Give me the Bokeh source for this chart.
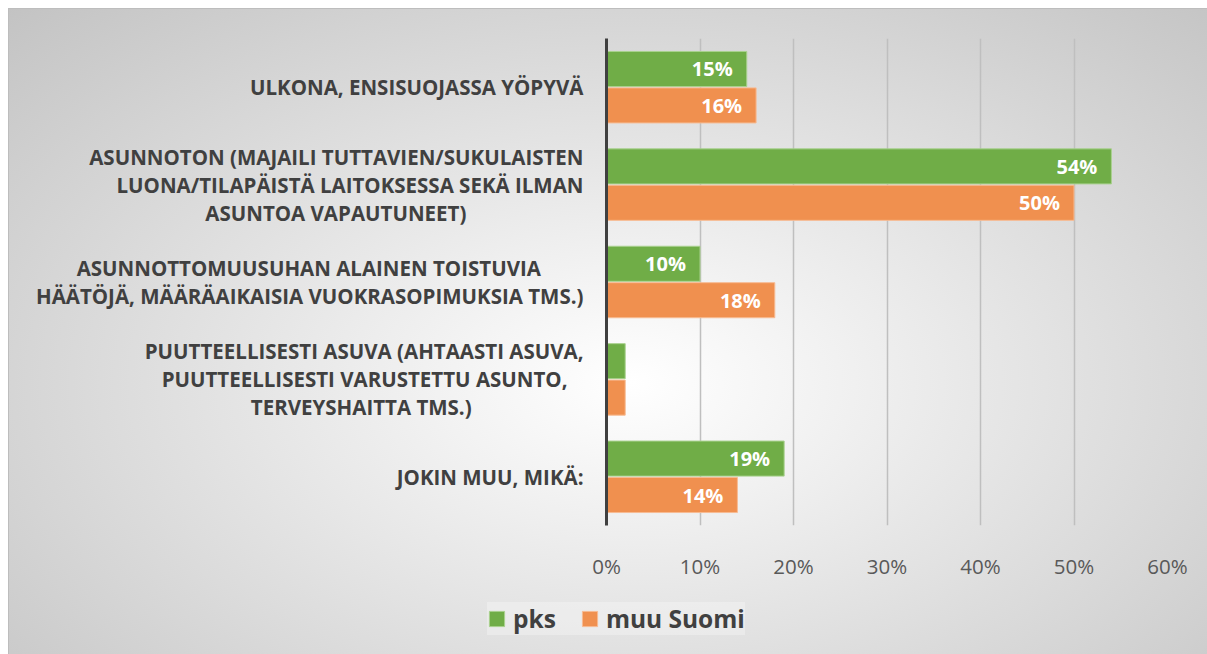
from bokeh.plotting import figure
from bokeh.models import (FactorRange, Range1d, FixedTicker, ColumnDataSource,
                          LabelSet, Legend, LegendItem)
from bokeh.transform import dodge
from bokeh.core.properties import value
from bokeh.embed import file_html
from bokeh.resources import INLINE

categories = [
    "ULKONA, ENSISUOJASSA YÖPYVÄ",
    "ASUNNOTON (MAJAILI TUTTAVIEN/SUKULAISTEN\nLUONA/TILAPÄISTÄ LAITOKSESSA SEKÄ ILMAN\nASUNTOA VAPAUTUNEET)",
    "ASUNNOTTOMUUSUHAN ALAINEN TOISTUVIA\nHÄÄTÖJÄ, MÄÄRÄAIKAISIA VUOKRASOPIMUKSIA TMS.)",
    "PUUTTEELLISESTI ASUVA (AHTAASTI ASUVA,\nPUUTTEELLISESTI VARUSTETTU ASUNTO,\nTERVEYSHAITTA TMS.)",
    "JOKIN MUU, MIKÄ:",
]
pks = [15, 54, 10, 2, 19]
muu_suomi = [16, 50, 18, 2, 14]
series_names = ["pks", "muu Suomi"]
ticks = [0, 10, 20, 30, 40, 50, 60]
tick_labels = ["0%", "10%", "20%", "30%", "40%", "50%", "60%"]

GREEN = "#70ad47"
ORANGE = "#f0904f"
GREEN_EDGE = "#a9d18e"
ORANGE_EDGE = "#f7bb93"
FONT = "Open Sans"

# layout only: trailing no-break spaces (closed by a zero-width space) make the
# right-aligned axis label lines look centred
LINE_PAD = {1: [0, 0, 22], 2: [8, 0], 3: [0, 3, 21]}


def centred(i, text):
    pads = LINE_PAD.get(i)
    if not pads:
        return text
    return "\n".join(ln + ("\u00a0" * n + "\u200b" if n else "")
                     for ln, n in zip(text.split("\n"), pads))


shown = [centred(i, c) for i, c in enumerate(categories)]

src = ColumnDataSource(dict(
    cat=shown,
    pks=pks,
    muu=muu_suomi,
    pks_lbl=[f"{v}%" if v >= 5 else "" for v in pks],
    muu_lbl=[f"{v}%" if v >= 5 else "" for v in muu_suomi],
))

factors = list(reversed(shown))
W = 1207
MAIN_H = 582
LEG_H = 72

GRAD = "radial-gradient(farthest-corner at 52% 58%, #ffffff 0%, #f2f2f2 22%, #c3c3c3 100%)"
EDGE = "linear-gradient(#bdbdbd,#bdbdbd)"

p = figure(width=W, height=MAIN_H, output_backend="svg", toolbar_location=None,
           y_range=FactorRange(*factors), x_range=Range1d(0, 60))
p.min_border_left = 606
p.min_border_right = 40
p.min_border_top = 38
p.min_border_bottom = 52
p.background_fill_alpha = 0
p.border_fill_alpha = 0
p.outline_line_color = None
p.styles = {"background": (
    f"{EDGE} 8px 8px / 1199px 1px no-repeat, "
    f"{EDGE} 8px 8px / 1px 646px no-repeat, "
    f"{GRAD} 8px 8px / 1199px 646px no-repeat, #ffffff")}

off = 0.187
h = 0.36
p.hbar(y=dodge("cat", off, range=p.y_range), right="pks", left=0, height=h,
       source=src, fill_color=GREEN, line_color=GREEN_EDGE, line_width=1)
p.hbar(y=dodge("cat", -off, range=p.y_range), right="muu", left=0, height=h,
       source=src, fill_color=ORANGE, line_color=ORANGE_EDGE, line_width=1)

for col, lbl, o in (("pks", "pks_lbl", off), ("muu", "muu_lbl", -off)):
    p.add_layout(LabelSet(x=col, y=dodge("cat", o, range=p.y_range), text=lbl, source=src,
                          x_offset=-14, text_align="right", text_baseline="middle",
                          text_color="white", text_font=value(FONT), text_font_style="bold",
                          text_font_size="20px"))

p.xaxis.ticker = FixedTicker(ticks=ticks)
p.xaxis.major_label_overrides = dict(zip(ticks, tick_labels))
p.xaxis.axis_line_color = None
p.xaxis.major_tick_line_color = None
p.xaxis.minor_tick_line_color = None
p.xaxis.major_label_standoff = 20
p.xaxis.major_label_text_font = FONT
p.xaxis.major_label_text_font_size = "20.5px"
p.xaxis.major_label_text_color = "#595959"

p.yaxis.axis_line_color = "#404040"
p.yaxis.axis_line_width = 3
p.yaxis.major_tick_line_color = None
p.yaxis.minor_tick_line_color = None
p.yaxis.major_label_standoff = 17
p.yaxis.major_label_text_font = FONT
p.yaxis.major_label_text_font_style = "bold"
p.yaxis.major_label_text_font_size = "20.5px"
p.yaxis.major_label_text_color = "#404040"
p.yaxis.major_label_text_line_height = 1.0

p.xgrid.grid_line_color = "#bfbfbf"
p.xgrid.grid_line_width = 1.5
p.ygrid.grid_line_color = None

# legend strip (own small plot; its bars lie outside its x range)
lp = figure(width=W, height=LEG_H, output_backend="svg", toolbar_location=None,
            y_range=FactorRange(*factors), x_range=Range1d(-2000, -1000),
            x_axis_type=None, y_axis_type=None)
lp.min_border = 0
lp.background_fill_alpha = 0
lp.border_fill_alpha = 0
lp.outline_line_color = None
lp.grid.visible = False
lp.styles = {"background": (
    f"{EDGE} 8px -574px / 1px 646px no-repeat, "
    f"{GRAD} 8px -574px / 1199px 646px no-repeat, #ffffff")}
l1 = lp.hbar(y="cat", right="pks", left=0, height=h, source=src,
             fill_color=GREEN, line_color=GREEN_EDGE, line_width=1)
l2 = lp.hbar(y="cat", right="muu", left=0, height=h, source=src,
             fill_color=ORANGE, line_color=ORANGE_EDGE, line_width=1)
legend = Legend(items=[LegendItem(label=series_names[0], renderers=[l1]),
                       LegendItem(label=series_names[1], renderers=[l2])],
                orientation="horizontal", location=(487, 19),
                glyph_width=19, glyph_height=19, label_standoff=7, spacing=24,
                padding=24, margin=0,
                label_text_font=FONT, label_text_font_style="bold",
                label_text_font_size="24.5px", label_text_color="#404040",
                background_fill_color="#f8f8f8", background_fill_alpha=0.4,
                border_line_color=None)
lp.add_layout(legend, "center")

open("out.html", "w").write(file_html([p, lp], INLINE))
